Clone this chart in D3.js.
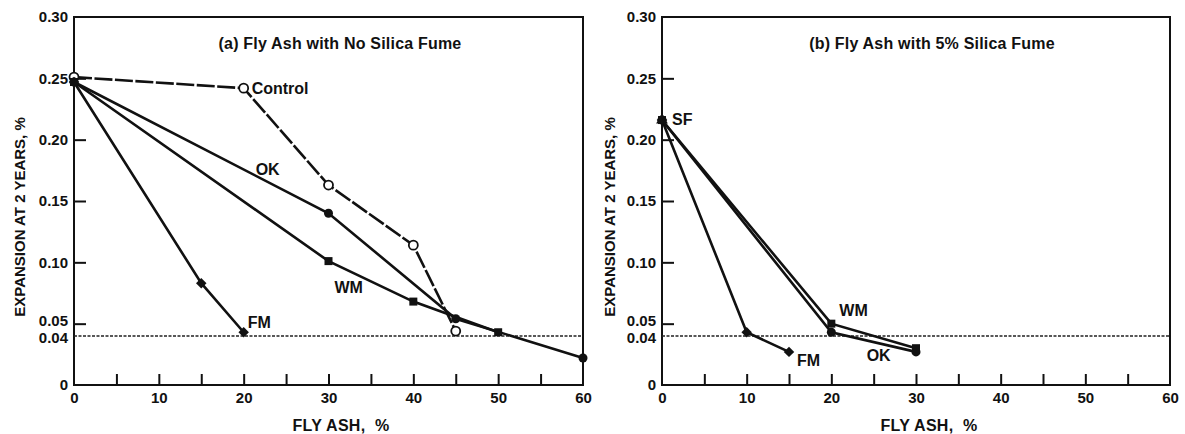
<!DOCTYPE html>
<html>
<head>
<meta charset="utf-8">
<script src="https://cdn.jsdelivr.net/npm/d3@7"></script>
<style>
  html, body { margin: 0; padding: 0; background: #fff; }
  text { font-family: "Liberation Sans", Arial, sans-serif; font-weight: bold; fill: #111; }
</style>
</head>
<body>
<svg id="chart" width="1185" height="434"></svg>
<script>
// Expansion at 2 years (%) vs fly ash replacement (%)
const xTickLabels = [0, 10, 20, 30, 40, 50, 60];
const xMinorTicks = [5, 10, 15, 20, 25, 30, 35, 40, 45, 50, 55];
const yTickLabels = [0, 0.04, 0.05, 0.10, 0.15, 0.20, 0.25, 0.30];
const yMinorTicks = [0.05, 0.10, 0.15, 0.20, 0.25];
const limitLine = 0.04;

// Panel (a): fly ash with no silica fume
const aControl = [[0, 0.251], [20, 0.242], [30, 0.163], [40, 0.114], [45, 0.044]];
const aOK      = [[0, 0.247], [30, 0.140], [45, 0.054], [60, 0.022]];
const aWM      = [[0, 0.247], [30, 0.101], [40, 0.068], [50, 0.043]];
const aFM      = [[0, 0.247], [15, 0.083], [20, 0.043]];

// Panel (b): fly ash with 5% silica fume
const bOK = [[0, 0.216], [20, 0.043], [30, 0.027]];
const bWM = [[0, 0.216], [20, 0.050], [30, 0.030]];
const bFM = [[0, 0.216], [10, 0.043], [15, 0.027]];
const bSF = [[0, 0.216]];

const svg = d3.select("#chart");

const panels = [
  {
    left: 74, right: 583, top: 17, bottom: 385, ylabX: 25,
    title: "(a) Fly Ash with No Silica Fume", titleX: 340,
    series: [
      { data: aControl, marker: "open", dash: "18,2.5" },
      { data: aWM, marker: "square" },
      { data: aFM, marker: "diamond" },
      { data: aOK, marker: "circle" }
    ],
    labels: [
      { text: "Control", x: 20, y: 0.242, dx: 8, dy: 6 },
      { text: "OK", x: 20, y: 0.178, dx: 12, dy: 8 },
      { text: "WM", x: 30, y: 0.083, dx: 6, dy: 10 },
      { text: "FM", x: 20, y: 0.048, dx: 4, dy: 2 }
    ]
  },
  {
    left: 662, right: 1170, top: 17, bottom: 385, ylabX: 615,
    title: "(b) Fly Ash with 5% Silica Fume", titleX: 932,
    series: [
      { data: bFM, marker: "diamond" },
      { data: bOK, marker: "circle" },
      { data: bWM, marker: "square" },
      { data: bSF, marker: "triangle" }
    ],
    labels: [
      { text: "SF", x: 0, y: 0.216, dx: 10, dy: 5 },
      { text: "WM", x: 20, y: 0.050, dx: 8, dy: -8 },
      { text: "OK", x: 25, y: 0.027, dx: -7, dy: 9 },
      { text: "FM", x: 15, y: 0.027, dx: 8, dy: 14 }
    ]
  }
];

panels.forEach(p => {
  const x = d3.scaleLinear().domain([0, 60]).range([p.left, p.right]);
  const y = d3.scaleLinear().domain([0, 0.30]).range([p.bottom, p.top]);
  const g = svg.append("g");

  // frame
  g.append("rect")
    .attr("x", p.left).attr("y", p.top)
    .attr("width", p.right - p.left).attr("height", p.bottom - p.top)
    .attr("fill", "none").attr("stroke", "#111").attr("stroke-width", 2);

  // x minor ticks (inward)
  g.append("g").attr("transform", `translate(0,${p.bottom})`)
    .call(d3.axisBottom(x).tickValues(xMinorTicks).tickSize(-11).tickFormat(""))
    .call(a => a.select(".domain").remove())
    .call(a => a.selectAll("line").attr("stroke", "#111").attr("stroke-width", 2));

  // x labels
  g.append("g").attr("transform", `translate(0,${p.bottom})`)
    .call(d3.axisBottom(x).tickValues(xTickLabels).tickSize(0).tickPadding(7).tickFormat(d3.format("d")))
    .call(a => a.select(".domain").remove())
    .call(a => a.selectAll("text").attr("font-size", 15).attr("font-family", "Liberation Sans, Arial, sans-serif").attr("font-weight", "bold").attr("fill", "#111"));

  // y minor ticks (inward)
  g.append("g").attr("transform", `translate(${p.left},0)`)
    .call(d3.axisLeft(y).tickValues(yMinorTicks).tickSize(-12).tickFormat(""))
    .call(a => a.select(".domain").remove())
    .call(a => a.selectAll("line").attr("stroke", "#111").attr("stroke-width", 2));

  // y labels (0.05 and 0.04 sit close together, nudged apart slightly)
  g.append("g").attr("transform", `translate(${p.left},0)`)
    .call(d3.axisLeft(y).tickValues(yTickLabels).tickSize(0).tickPadding(6)
      .tickFormat(d => d === 0 ? "0" : d3.format(".2f")(d)))
    .call(a => a.select(".domain").remove())
    .call(a => a.selectAll("text")
      .attr("font-size", 15).attr("font-family", "Liberation Sans, Arial, sans-serif")
      .attr("font-weight", "bold").attr("fill", "#111")
      .attr("dy", d => d === 0.05 ? "0.12em" : d === 0.04 ? "0.42em" : "0.32em"));

  // axis titles
  g.append("text")
    .attr("x", p.left + 267).attr("y", 431)
    .attr("text-anchor", "middle").attr("font-size", 16)
    .attr("letter-spacing", 0.3)
    .attr("xml:space", "preserve")
    .text("FLY ASH,  %");
  g.append("text")
    .attr("transform", `translate(${p.ylabX},${(p.top + p.bottom) / 2 + 16}) rotate(-90)`)
    .attr("text-anchor", "middle").attr("font-size", 15)
    .text("EXPANSION AT 2 YEARS, %");

  // panel title
  g.append("text")
    .attr("x", p.titleX).attr("y", 49)
    .attr("text-anchor", "middle").attr("font-size", 16)
    .attr("letter-spacing", 0.2)
    .text(p.title);

  // 0.04% limit line
  g.append("line")
    .attr("x1", x(0)).attr("x2", x(60))
    .attr("y1", y(limitLine)).attr("y2", y(limitLine))
    .attr("stroke", "#222").attr("stroke-width", 1.5).attr("stroke-dasharray", "3,1.5");

  const line = d3.line().x(d => x(d[0])).y(d => y(d[1]));

  p.series.forEach(s => {
    if (s.data.length > 1) {
      g.append("path").datum(s.data)
        .attr("d", line).attr("fill", "none")
        .attr("stroke", "#111").attr("stroke-width", 2.6)
        .attr("stroke-dasharray", s.dash || null);
    }
  });

  p.series.forEach(s => {
    const m = g.append("g");
    s.data.forEach(d => {
      const cx = x(d[0]), cy = y(d[1]);
      if (s.marker === "open") {
        m.append("circle").attr("cx", cx).attr("cy", cy).attr("r", 4.5)
          .attr("fill", "#fff").attr("stroke", "#111").attr("stroke-width", 1.8);
      } else if (s.marker === "circle") {
        m.append("circle").attr("cx", cx).attr("cy", cy).attr("r", 4.5).attr("fill", "#111");
      } else if (s.marker === "square") {
        m.append("rect").attr("x", cx - 4).attr("y", cy - 4).attr("width", 8).attr("height", 8).attr("fill", "#111");
      } else if (s.marker === "diamond") {
        m.append("path").attr("d", d3.symbol(d3.symbolDiamond2, 70)())
          .attr("transform", `translate(${cx},${cy})`).attr("fill", "#111");
      } else if (s.marker === "triangle") {
        m.append("path").attr("d", d3.symbol(d3.symbolTriangle, 60)())
          .attr("transform", `translate(${cx},${cy})`).attr("fill", "#111");
      }
    });
  });

  p.labels.forEach(l => {
    g.append("text")
      .attr("x", x(l.x) + l.dx).attr("y", y(l.y) + l.dy)
      .attr("font-size", 16)
      .text(l.text);
  });
});
</script>
</body>
</html>
